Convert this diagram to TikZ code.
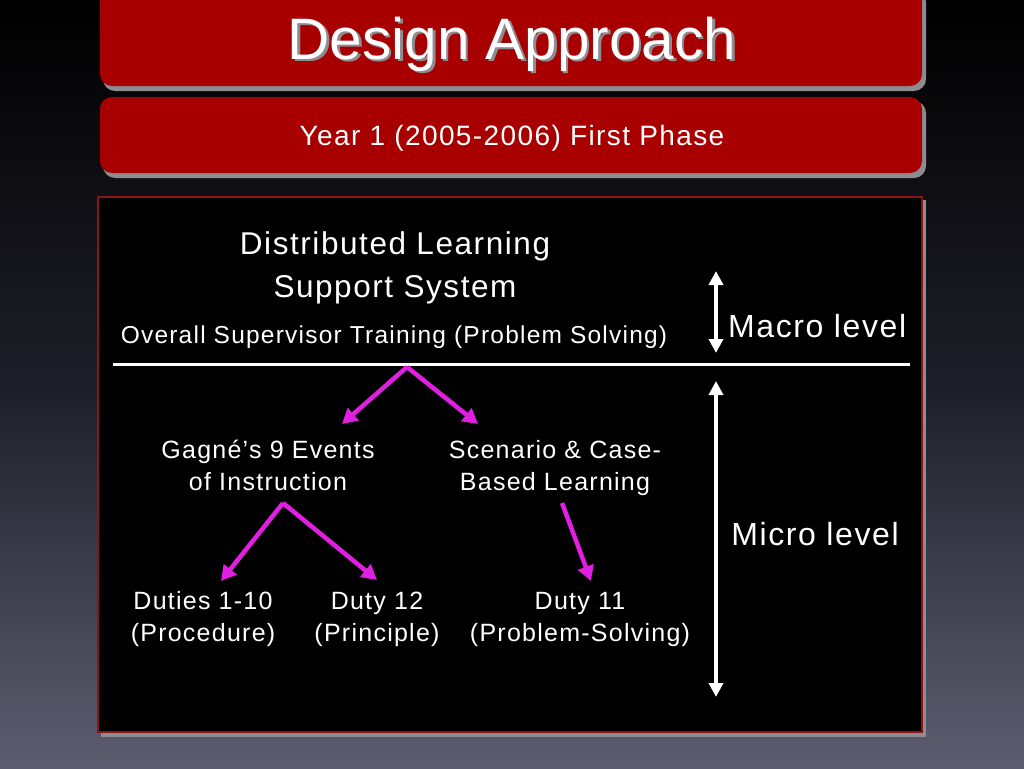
\documentclass[tikz,border=0pt]{standalone}
\usepackage{fontspec}
\setmainfont{Liberation Sans}
\usetikzlibrary{arrows.meta}
\definecolor{boxred}{RGB}{168,0,0}
\definecolor{bordred}{RGB}{140,20,20}
\definecolor{shadowgray}{RGB}{140,140,145}
\definecolor{mag}{RGB}{225,30,225}
\definecolor{bgbot}{RGB}{92,94,112}
\newcommand{\fs}[2]{\fontsize{#1}{#2}\selectfont\addfontfeatures{LetterSpace=5}}
\tikzset{
  headbox/.style={draw=none,fill=boxred,rounded corners=12pt},
  shadowbox/.style={draw=none,fill=shadowgray,rounded corners=12pt},
  txt/.style={text=white,align=center,inner sep=0pt,font=\fs{25}{32}},
  magarrow/.style={draw=mag,line width=4.5pt,-{Triangle[length=15pt,width=16pt]}},
  levelarrow/.style={draw=white,line width=4pt,{Triangle[length=14pt,width=14pt]}-{Triangle[length=14pt,width=14pt]}},
}
\begin{document}
\begin{tikzpicture}[x=1pt,y=-1pt]
\useasboundingbox (0,0) rectangle (1024,768);
\shade[top color=black,bottom color=bgbot,middle color={rgb,255:red,30;green,30;blue,40}] (0,0) rectangle (1024,768);
% title box
\fill[shadowbox] (103,-10) rectangle (926,91);
\fill[headbox] (100,-14) rectangle (922,86);
\node[text=shadowgray,font=\fontsize{58.5}{60}\selectfont,inner sep=0pt] at (514.5,46.5) {Design Approach};
\node (title) [text=white,font=\fontsize{58.5}{60}\selectfont,inner sep=0pt] at (512,44) {Design Approach};
% phase box
\fill[shadowbox] (103,101) rectangle (926,178);
\fill[headbox] (100,97) rectangle (922,173);
\node (phase) [txt,font=\fs{28}{30}] at (512,138) {Year 1 (2005-2006) First Phase};
% main box
\fill[shadowgray] (101,200) rectangle (926,737);
\draw[bordred,fill=black,line width=1.5pt] (98,197) rectangle (922,732);
\node (dls) [txt,font=\fs{31.5}{43}] at (395,268) {Distributed Learning\\Support System};
\node (ost) [txt,font=\fs{24.5}{30}] at (394,337) {Overall Supervisor Training (Problem Solving)};
\draw[white,line width=3pt] (113,364) coordinate (hl) -- (910,364) coordinate (hr);
\coordinate (macTop) at (716,271);
\coordinate (macBot) at (716,353);
\draw[levelarrow] (macTop) -- (macBot);
\node (macro) [txt,font=\fs{32}{34},anchor=west] at (728,326) {Macro level};
\coordinate (micTop) at (716,381);
\coordinate (micBot) at (716,697);
\draw[levelarrow] (micTop) -- (micBot);
\node (micro) [txt,font=\fs{32}{34}] at (815,534) {Micro level};
\node (gagne) [txt] at (268,465) {Gagné’s 9 Events\\of Instruction};
\node (scen) [txt] at (555,468) {Scenario \& Case-\\Based Learning};
\node (d110) [txt] at (203,619) {Duties 1-10\\(Procedure)};
\node (d12) [txt] at (377,619) {Duty 12\\(Principle)};
\node (d11) [txt] at (580,619) {Duty 11\\(Problem-Solving)};
\coordinate (s1) at (407,367);
\coordinate (e1) at (342,424);
\coordinate (e2) at (478,424);
\coordinate (s2) at (283,503);
\coordinate (e3) at (221,581);
\coordinate (e4) at (377,580);
\coordinate (s3) at (562,503);
\coordinate (e5) at (591,581);
\draw[magarrow,line join=round] (s1) -- (e1);
\draw[magarrow,line join=round] (s1) -- (e2);
\draw[magarrow] (s2) -- (e3);
\draw[magarrow] (s2) -- (e4);
\draw[magarrow] (s3) -- (e5);
\end{tikzpicture}
\end{document}
